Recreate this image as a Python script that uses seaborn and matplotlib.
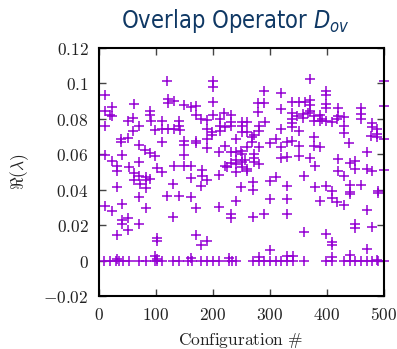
import matplotlib
matplotlib.use("Agg")
import matplotlib.pyplot as plt
import seaborn as sns
import pandas as pd

config = [
    120, 11, 22, 10, 19, 22, 61, 90, 90, 91, 121, 121, 132, 150, 162, 11, 51, 60, 60, 71,
    111, 140, 140, 99, 111, 121, 132, 142, 39, 39, 51, 111, 150, 70, 81, 90, 99, 150, 150, 11,
    41, 22, 32, 70, 132, 150, 161, 53, 101,
    200, 200, 290, 320, 200, 171, 171, 200, 220, 231, 231, 231, 180, 190, 190, 212, 212, 221, 212, 280,
    290, 280, 320, 291, 251, 260, 251, 251, 260, 281, 281, 272, 320, 199, 199, 170, 170, 190, 240, 269,
    269, 301, 310, 330, 190, 221, 260, 281, 211, 231, 240, 249, 251, 320, 320, 330, 272, 272, 272, 240,
    240, 231, 251, 257, 222, 225, 251, 281,
    370, 399, 399, 339, 351, 361, 370, 370, 399, 399, 370, 339, 347, 358, 358, 367, 419, 419, 460, 460,
    460, 339, 339, 339, 351, 378, 378, 388, 388, 392, 399, 409, 418, 430, 430, 430, 480, 480, 488, 488,
    477, 488, 500, 500, 500, 339, 351, 351, 378, 378, 389, 370, 380, 439, 470, 419, 441, 450,
    31, 61, 61, 70, 82, 82, 90, 72, 82, 111, 162, 130, 31, 70, 120, 140, 161, 10, 22, 41,
    82, 130, 41, 41, 51, 70, 51, 31, 101, 101,
    181, 181, 190, 180, 211, 240, 260, 260, 250, 270, 270, 310, 301, 330, 240, 211, 171, 301, 330, 231,
    231, 270, 290, 330, 171, 180, 190, 301,
    419, 430, 450, 470, 480, 500, 360, 380, 399, 409, 409, 440, 440, 440, 460, 490, 490, 389, 418, 430,
    470, 450, 450, 480, 360, 399, 409, 409, 470,
    32, 98, 101, 161, 281, 330, 228, 341, 440, 409, 488,
    9, 19, 29, 35, 42, 53, 70, 82, 98, 102, 111, 130, 140, 156, 164,
    180, 190, 200, 211, 228, 233, 240, 270, 281, 290, 301, 310, 319, 330,
    341, 360, 399, 409, 430, 440, 450, 460, 470, 480, 490, 500,
]
re_lambda = [
    0.1011, 0.0936, 0.0866, 0.0847, 0.0819, 0.0815, 0.0885, 0.0847, 0.0823, 0.0790, 0.0913, 0.0889, 0.0900, 0.0879, 0.0866, 0.0762, 0.0790, 0.0804, 0.0734, 0.0759,
    0.0790, 0.0790, 0.0762, 0.0739, 0.0743, 0.0743, 0.0743, 0.0739, 0.0687, 0.0671, 0.0692, 0.0668, 0.0677, 0.0653, 0.0626, 0.0607, 0.0589, 0.0653, 0.0596, 0.0596,
    0.0596, 0.0564, 0.0535, 0.0558, 0.0535, 0.0532, 0.0532, 0.0526, 0.0522,
    0.1011, 0.0980, 0.0955, 0.0947, 0.0895, 0.0872, 0.0819, 0.0819, 0.0834, 0.0823, 0.0785, 0.0762, 0.0800, 0.0796, 0.0743, 0.0800, 0.0759, 0.0753, 0.0734, 0.0891,
    0.0891, 0.0838, 0.0853, 0.0785, 0.0785, 0.0785, 0.0759, 0.0728, 0.0725, 0.0759, 0.0734, 0.0709, 0.0743, 0.0725, 0.0709, 0.0677, 0.0664, 0.0687, 0.0687, 0.0696,
    0.0668, 0.0664, 0.0687, 0.0671, 0.0634, 0.0645, 0.0640, 0.0640, 0.0615, 0.0611, 0.0611, 0.0620, 0.0602, 0.0640, 0.0577, 0.0583, 0.0602, 0.0577, 0.0555, 0.0570,
    0.0545, 0.0551, 0.0558, 0.0570, 0.0535, 0.0526, 0.0526, 0.0545,
    0.1023, 0.0960, 0.0936, 0.0895, 0.0895, 0.0895, 0.0904, 0.0879, 0.0885, 0.0861, 0.0847, 0.0834, 0.0815, 0.0828, 0.0804, 0.0834, 0.0861, 0.0815, 0.0861, 0.0828,
    0.0800, 0.0800, 0.0777, 0.0753, 0.0734, 0.0815, 0.0790, 0.0819, 0.0790, 0.0800, 0.0790, 0.0781, 0.0800, 0.0810, 0.0762, 0.0721, 0.0777, 0.0753, 0.0743, 0.0715,
    0.0705, 0.0696, 0.0875, 0.1011, 0.0687, 0.0677, 0.0645, 0.0589, 0.0696, 0.0645, 0.0640, 0.0577, 0.0532, 0.0664, 0.0615, 0.0573, 0.0551, 0.0564,
    0.0504, 0.0492, 0.0454, 0.0479, 0.0470, 0.0454, 0.0460, 0.0432, 0.0409, 0.0498, 0.0466, 0.0432, 0.0416, 0.0360, 0.0365, 0.0365, 0.0360, 0.0309, 0.0280, 0.0322,
    0.0294, 0.0246, 0.0228, 0.0209, 0.0243, 0.0205, 0.0171, 0.0143, 0.0130, 0.0110,
    0.0511, 0.0479, 0.0454, 0.0422, 0.0484, 0.0498, 0.0517, 0.0504, 0.0416, 0.0441, 0.0398, 0.0473, 0.0447, 0.0422, 0.0337, 0.0303, 0.0294, 0.0347, 0.0347, 0.0262,
    0.0239, 0.0246, 0.0262, 0.0262, 0.0144, 0.0088, 0.0110, 0.0058,
    0.0504, 0.0479, 0.0517, 0.0517, 0.0507, 0.0511, 0.0479, 0.0416, 0.0422, 0.0394, 0.0352, 0.0428, 0.0385, 0.0375, 0.0428, 0.0390, 0.0379, 0.0337, 0.0328, 0.0314,
    0.0284, 0.0209, 0.0182, 0.0190, 0.0161, 0.0148, 0.0107, 0.0088, 0.0063,
    0.0010, 0.0025, 0.0007, 0.0017, 0.0020, 0.0025, 0.0012, 0.0025, 0.0030, 0.0020, 0.0005,
    0.0, 0.0, 0.0, 0.0, 0.0, 0.0, 0.0, 0.0, 0.0, 0.0, 0.0, 0.0, 0.0, 0.0, 0.0,
    0.0, 0.0, 0.0, 0.0, 0.0, 0.0, 0.0, 0.0, 0.0, 0.0, 0.0, 0.0, 0.0, 0.0,
    0.0, 0.0, 0.0, 0.0, 0.0, 0.0, 0.0, 0.0, 0.0, 0.0, 0.0, 0.0,
]

x_ticks = [0, 100, 200, 300, 400, 500]
x_tick_labels = ["$0$", "$100$", "$200$", "$300$", "$400$", "$500$"]
y_ticks = [-0.02, 0, 0.02, 0.04, 0.06, 0.08, 0.1, 0.12]
y_tick_labels = ["$-0.02$", "$0$", "$0.02$", "$0.04$", "$0.06$", "$0.08$", "$0.1$", "$0.12$"]

title_text = "Overlap Operator $D_{ov}$"
x_label = r"$\mathrm{Configuration\ \#}$"
y_label = r"$\Re(\lambda)$"

sns.set_style("ticks")
plt.rcParams.update({
    "mathtext.fontset": "cm",
    "mathtext.rm": "DejaVu Sans:stretch=condensed",
    "mathtext.it": "DejaVu Sans:italic:stretch=condensed",
    "mathtext.bf": "DejaVu Sans:bold:stretch=condensed",
    "mathtext.sf": "DejaVu Sans:stretch=condensed",
})

fig = plt.figure(figsize=(3.97, 3.49), dpi=100)
ax = fig.add_axes([99 / 397, 1 - 296 / 349, (383.7 - 99) / 397, (296 - 48) / 349])

df = pd.DataFrame({"Configuration": config, "Re": re_lambda})
sns.scatterplot(data=df, x="Configuration", y="Re", marker="+", color="#9400d3",
                s=42, linewidth=1.1, ax=ax, legend=False)
for coll in ax.collections:
    coll.set_clip_on(False)

ax.set_xlim(0, 500)
ax.set_ylim(-0.02, 0.12)
ax.set_xticks(x_ticks)
ax.set_xticklabels(x_tick_labels, math_fontfamily="cm")
ax.set_yticks(y_ticks)
ax.set_yticklabels(y_tick_labels, math_fontfamily="cm")
ax.set_xlabel("")
ax.set_ylabel("")
ax.tick_params(direction="in", length=5, width=1.0, color="#444444",
               top=True, right=True, labelsize=12.5, labelcolor="#222222")
ax.tick_params(axis="x", pad=7)
ax.tick_params(axis="y", pad=7.5)
for sp in ax.spines.values():
    sp.set_visible(True)
    sp.set_linewidth(1.5)
    sp.set_color("black")

fig.text(240.5 / 397, 1 - 340 / 349, x_label, ha="center", va="center",
         fontsize=12.5, color="#222222", math_fontfamily="cm")
fig.text(20 / 397, 1 - 172 / 349, y_label, ha="center", va="center", rotation=90,
         fontsize=12.5, color="#222222", math_fontfamily="cm")
fig.text(235 / 397, 1 - 28 / 349, title_text, ha="center", va="baseline",
         fontsize=17, color="#0f3864", family="DejaVu Sans", fontstretch="condensed",
         math_fontfamily="custom")

fig.savefig("out.png", dpi=100)
